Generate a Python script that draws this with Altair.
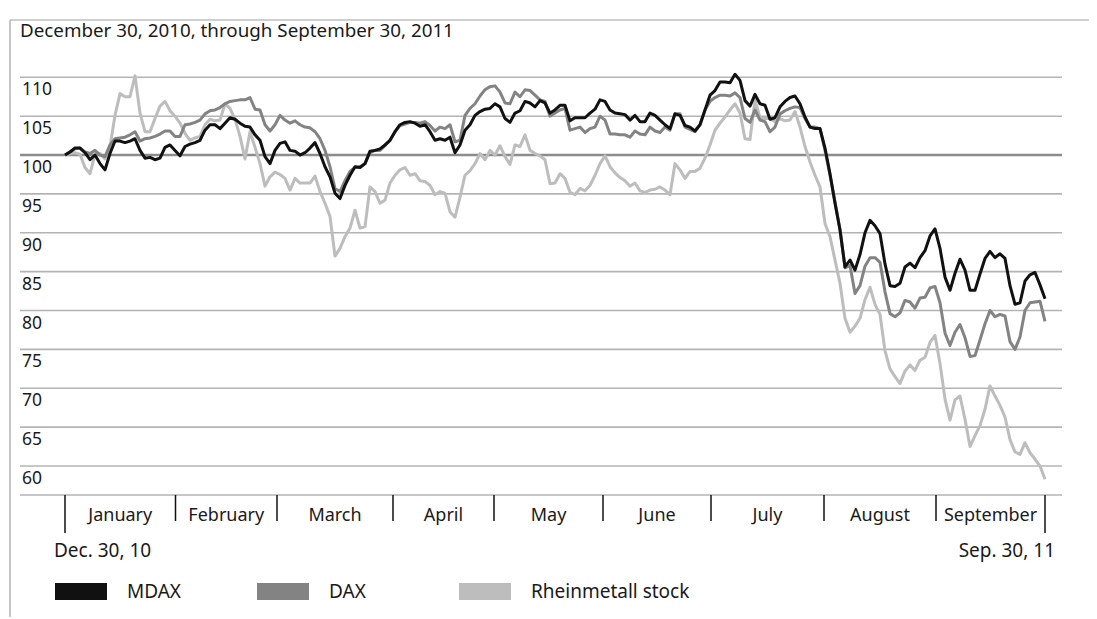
import altair as alt
import pandas as pd

# ---- data (index = 100 on Dec 30, 2010), one value per trading session ----
mdax = [100, 100.4, 100.9, 100.9, 100.3, 99.4, 100, 98.9, 98.1, 100.2, 101.8, 101.8, 101.6, 101.8, 102.1, 100.6, 99.6, 99.7, 99.4, 99.6,
        101, 101.3, 100.6, 99.9, 101.1, 101.4, 101.6, 101.9, 103.2, 103.9, 103.9, 103.4, 104.1, 104.8, 104.6, 104.1, 103.7, 103.6, 102.6, 101.9,
        99.8, 98.9, 100.6, 101.5, 101.7, 100.6, 100.5, 100, 100.3, 100.9, 101.6, 100.2, 98.5, 97.2, 95.1, 94.4, 96.1, 97.4, 98.5, 98.4,
        98.9, 100.5, 100.6, 100.8, 101.3, 101.9, 103, 103.9, 104.2, 104.3, 104.1, 103.7, 103.9, 103, 101.9, 102.1, 101.9, 102.3,
        100.3, 101.3, 103.2, 103.9, 105.1, 105.6, 105.9, 106, 106.6, 106.2, 104.7, 104.2, 105.4, 105.7, 106.9, 106.7, 106.2, 107, 106.7, 105.4,
        105.8, 106.4, 106.4, 104.4, 104.8, 104.8, 104.8, 105.4, 105.9, 107.1, 106.9, 105.8, 105.4, 105.3, 105.2, 104.5, 105.1, 104.3, 104.3, 105.4, 105.1,
        104.5, 103.9, 103.4, 105.3, 105.1, 103.8, 103.6, 103.1, 103.9, 105.8, 107.7, 108.3, 109.4, 109.4, 109.3, 110.4, 109.6, 107, 106.3, 107.8,
        106.6, 106.4, 104.6, 104.8, 106.2, 106.9, 107.4, 107.6, 106.6, 104.9, 103.6, 103.4, 103.4, 100.9, 97.6, 93.8, 90.4, 85.6, 86.5,
        85.2, 87.2, 90, 91.6, 90.9, 89.9, 86, 83.2, 83.1, 83.5, 85.6, 86.1, 85.5, 86.8, 87.7, 89.6, 90.5, 88, 84.3, 82.6,
        84.8, 86.6, 85.2, 82.6, 82.6, 84.7, 86.7, 87.6, 86.8, 87.3, 86.7, 83.2, 80.8, 81, 83.8, 84.6, 84.9, 83.3, 81.5]

dax = [100, 100.4, 100.8, 100.9, 100.4, 100.2, 100.6, 100, 99.8, 101.3, 102.1, 102.2, 102.3, 102.6, 103, 101.8, 102.1, 102.2, 102.4, 102.7,
       103.1, 103.1, 102.4, 102.4, 103.9, 104, 104.2, 104.5, 105.3, 105.7, 105.8, 106.1, 106.6, 106.9, 107, 107.1, 107.1, 107.4, 105.9, 105.8,
       103.9, 103.1, 103.9, 105.1, 104.5, 104.1, 104.4, 103.9, 103.6, 103.5, 103, 102.1, 100.6, 98.5, 95.7, 95.3, 96.7, 97.9, 98.4, 98.5,
       98.9, 100.3, 100.6, 100.6, 101.2, 101.9, 103, 103.8, 104, 104.2, 104.2, 104.1, 104.3, 103.8, 103.1, 103.6, 103.4, 103.9,
       101.7, 101.9, 105.1, 106, 106.6, 107.6, 108.4, 108.8, 108.9, 108.1, 106.7, 106.6, 108.1, 107.5, 108.4, 108.3, 107.7, 107.1, 106.9, 105,
       105.4, 105.8, 106, 103.2, 103.4, 103.6, 102.9, 103.4, 103.6, 105, 104.5, 102.7, 102.7, 102.6, 102.6, 102.3, 103.1, 102.7, 102.6, 103.6, 103.1,
       102.9, 103.6, 103.2, 105.3, 105.3, 103.6, 103.3, 103, 103.9, 105.8, 106.9, 107.4, 107.7, 107.7, 107.6, 108, 107.4, 104.7, 104.2, 105.8,
       104.5, 104.3, 103, 103.6, 105.3, 105.7, 106, 106.2, 106.1, 104.7, 103.6, 103.6, 103.4, 100.6, 97.4, 94, 90.4, 85.5, 85.8,
       82.2, 83.2, 85.7, 86.8, 86.8, 86.2, 82.4, 79.6, 79.2, 79.7, 81.3, 81.1, 80.3, 81.6, 81.7, 82.9, 83.1, 81, 77.1, 75.5,
       77.2, 78.2, 76.5, 74.1, 74.2, 76.2, 78.3, 80, 79.2, 79.5, 79.3, 76, 75, 76.6, 80, 81, 81.1, 81.2, 78.6]

rheinmetall = [100, 100.2, 100.3, 100.1, 98.4, 97.6, 100.1, 100.2, 99.5, 101.1, 105.1, 107.9, 107.5, 107.5, 110.2, 105.4, 103, 103, 104.7, 106.3,
               106.9, 105.7, 105, 104.1, 102.8, 101.9, 102.2, 102.4, 103.9, 104.6, 104.4, 104.5, 106.6, 106, 104.6, 102.4, 99.5, 103, 101, 98.9,
               96, 97.2, 97.8, 97.5, 97, 95.5, 97, 96.4, 96.4, 96.4, 97.3, 95.3, 93.8, 92.1, 87, 88, 89.5, 90.6, 92.9, 90.6,
               90.8, 95.9, 95.3, 93.8, 94.2, 96.4, 97.4, 98.1, 98.4, 97.4, 97.6, 96.7, 96.6, 96.1, 94.9, 95.3, 95.1, 92.7,
               92, 94.6, 97.4, 98, 98.9, 100.2, 99.4, 100.6, 100, 101.2, 99.8, 98.8, 101.3, 101.1, 102.6, 100.6, 100.2, 99.9, 99.4, 96.3,
               96.4, 97.6, 97, 95.2, 94.9, 95.7, 95.4, 96.1, 97.4, 98.9, 99.9, 98.5, 97.7, 97.1, 96.7, 96, 96.4, 95.4, 95.2, 95.5, 95.6,
               95.9, 95.5, 94.9, 98.9, 98.1, 97, 97.9, 97.9, 98.3, 99.6, 101.3, 103.2, 104.1, 104.9, 105.8, 106.6, 105.4, 102.1, 102, 107.1,
               104.8, 104.7, 104.7, 104.3, 104.7, 104.4, 104.5, 105.6, 103.6, 101.1, 99.1, 97.4, 95.9, 91.2, 89.5, 86.5, 83.5, 79, 77.2,
               78, 79, 81.4, 83, 80.8, 79.5, 74.8, 72.5, 71.5, 70.6, 72.2, 73, 72.3, 73.6, 74, 75.9, 76.8, 73.2, 68.6, 65.9,
               68.5, 69, 66, 62.5, 63.9, 65.2, 67.3, 70.3, 69, 67.8, 66.3, 63.4, 61.8, 61.5, 63, 61.7, 60.9, 60, 58.3]

series_names = ["MDAX", "DAX", "Rheinmetall stock"]
series_colors = ["#111111", "#838383", "#bdbdbd"]

months = ["January", "February", "March", "April", "May", "June", "July", "August", "September"]
month_bounds = [0, 22.1, 42.4, 65.6, 85.8, 107.6, 129.2, 151.8, 174.2, 196]   # session positions of month borders
grid_values = [60, 65, 70, 75, 80, 85, 90, 95, 100, 105, 110]
start_label = "Dec. 30, 10"
end_label = "Sep. 30, 11"
subtitle = "December 30, 2010, through September 30, 2011"

# ---- tables ----
rows = []
for name, vals in zip(series_names, [mdax, dax, rheinmetall]):
    for i, v in enumerate(vals):
        rows.append({"session": i, "value": v, "series": name})
df = pd.DataFrame(rows)

grid_df = pd.DataFrame({"value": grid_values, "label": [str(g) for g in grid_values]})
bounds_df = pd.DataFrame({"session": month_bounds[1:-1]})
ends_df = pd.DataFrame({"session": [month_bounds[0], month_bounds[-1]]})
month_df = pd.DataFrame({
    "month": months,
    "session": [(a + b) / 2 for a, b in zip(month_bounds[:-1], month_bounds[1:])],
})

FONT = "Noto Sans"
TXT = "#1a1a1a"
W, H = 1042, 426
xs = alt.Scale(domain=[-9, 199.4], nice=False, zero=False)
ys = alt.Scale(domain=[56.27, 111.07], nice=False, zero=False)
X = lambda f="session": alt.X(f"{f}:Q", scale=xs, axis=None)
Y = lambda f="value": alt.Y(f"{f}:Q", scale=ys, axis=None)

grid = alt.Chart(grid_df).transform_filter("datum.value != 100").mark_rule(
    color="#b4b4b4", strokeWidth=1.6).encode(y=Y())
grid100 = alt.Chart(grid_df).transform_filter("datum.value == 100").mark_rule(
    color="#8c8c8c", strokeWidth=2.6).encode(y=Y())
ylabels = alt.Chart(grid_df).mark_text(
    align="left", baseline="middle", dy=13, font=FONT, fontSize=17.5, color=TXT
).encode(y=Y(), x=alt.value(2), text="label:N")
baseline = alt.Chart(grid_df).transform_filter("datum.value == 60").mark_rule(
    color="#b4b4b4", strokeWidth=1.6).encode(y=alt.value(H), x=alt.value(0), x2=alt.value(W))

ticks = alt.Chart(bounds_df).mark_rule(color="#111111", strokeWidth=1.5).encode(
    x=X(), y=alt.value(H), y2=alt.value(H + 26))
end_ticks = alt.Chart(ends_df).mark_rule(color="#111111", strokeWidth=1.5).encode(
    x=X(), y=alt.value(H), y2=alt.value(H + 38))
month_text = alt.Chart(month_df).mark_text(
    font=FONT, fontSize=18, color=TXT, baseline="middle"
).encode(x=X(), y=alt.value(H + 21), text="month:N")

start_text = alt.Chart(ends_df.iloc[[0]]).mark_text(
    font=FONT, fontSize=19, color=TXT, align="left", baseline="middle", dx=-11, text=start_label
).encode(x=X(), y=alt.value(H + 56))
end_text = alt.Chart(ends_df.iloc[[1]]).mark_text(
    font=FONT, fontSize=19, color=TXT, align="right", baseline="middle", dx=10, text=end_label
).encode(x=X(), y=alt.value(H + 56))

lines = []
for name in reversed(series_names):
    c = series_colors[series_names.index(name)]
    lines.append(
        alt.Chart(df).transform_filter(alt.datum.series == name).mark_line(
            color=c, strokeWidth=3, strokeJoin="round"
        ).encode(x=X(), y=Y(), order="session:Q")
    )

# legend
legend_layers = []
leg_x = [35, 237, 439]
for name, c, lx in zip(series_names, series_colors, leg_x):
    legend_layers.append(
        alt.Chart(grid_df.iloc[[0]]).mark_rect(color=c).encode(
            x=alt.value(lx), x2=alt.value(lx + 52), y=alt.value(H + 88), y2=alt.value(H + 105))
    )
    legend_layers.append(
        alt.Chart(grid_df.iloc[[0]]).mark_text(
            font=FONT, fontSize=19, color=TXT, align="left", baseline="middle", text=name
        ).encode(x=alt.value(lx + 72), y=alt.value(H + 97))
    )

# frame and subtitle
frame_top = alt.Chart(grid_df.iloc[[0]]).mark_rule(color="#a0a0a0", strokeWidth=1.2).encode(
    x=alt.value(-10), x2=alt.value(1069), y=alt.value(-49))
frame_left = alt.Chart(grid_df.iloc[[0]]).mark_rule(color="#a0a0a0", strokeWidth=1.2).encode(
    x=alt.value(-10), y=alt.value(-49), y2=alt.value(560))
sub = alt.Chart(grid_df.iloc[[0]]).mark_text(
    font=FONT, fontSize=18.8, color=TXT, align="left", baseline="middle", text=subtitle
).encode(x=alt.value(0), y=alt.value(-38))

chart = alt.layer(
    frame_top, frame_left, sub,
    grid, baseline, grid100, ylabels,
    ticks, end_ticks, month_text, start_text, end_text,
    *lines, *legend_layers
).properties(
    width=W, height=H,
    autosize=alt.AutoSizeParams(type="none"),
    padding={"left": 12, "top": 61, "right": 27, "bottom": 122},
).configure_view(stroke=None)

chart.save("out.html", embed_options={"renderer": "svg", "actions": False})
